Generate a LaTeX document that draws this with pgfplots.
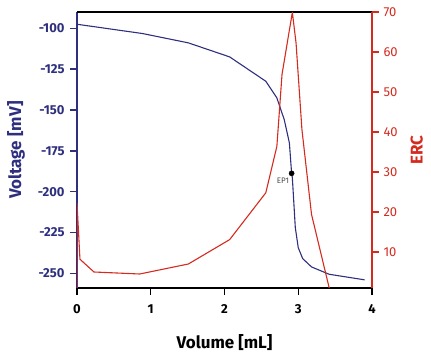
\documentclass[border=0pt]{standalone}
\usepackage{pgfplots}
\pgfplotsset{compat=1.18}
\usepackage{fontspec}
\setmainfont{Fira Sans}
\definecolor{vblue}{HTML}{2E2F7E}
\definecolor{ered}{HTML}{D52B1E}
\begin{document}
\begin{tikzpicture}
\useasboundingbox (-77pt,-68pt) rectangle (354pt,288pt);
\begin{axis}[
  at={(0pt,0pt)}, anchor=south west,
  scale only axis, width=295pt, height=276pt,
  xmin=0, xmax=4, ymin=-259, ymax=-90,
  axis y line*=left, axis x line*=bottom,
  xtick={0,1,2,3,4}, ytick={-250,-225,-200,-175,-150,-125,-100},
  tick align=outside, major tick length=7pt,
  every tick/.style={line width=1.4pt},
  x axis line style={black, line width=1.4pt, -},
  y axis line style={vblue, line width=1.6pt, -},
  xtick style={black, line width=1.4pt},
  ytick style={vblue, line width=1.4pt},
  /pgf/number format/assume math mode=true,
  x tick label style={font=\fontsize{13}{15}\selectfont\bfseries, text=black, yshift=-6pt},
  y tick label style={font=\fontsize{13}{15}\selectfont\bfseries, text=vblue, xshift=-2pt},
  xlabel={Volume [mL]},
  ylabel={Voltage [mV]},
  xlabel style={font=\fontsize{17}{19}\selectfont\bfseries, text=black, yshift=-14pt},
  ylabel style={font=\fontsize{17}{19}\selectfont\bfseries, text=vblue, yshift=6pt},
  clip=true,
]
\addplot[vblue, line width=1.1pt] coordinates {
(0,-97.5) (0.89,-103.2) (1.51,-108.9) (2.07,-117.5) (2.56,-132.4) (2.71,-142.6)
(2.81,-155.9) (2.88,-170.2) (2.91,-188.8) (2.92,-191.4) (2.96,-222) (3.0,-234.3)
(3.06,-241) (3.18,-246.1) (3.42,-250.6) (3.90,-254)
};
\addplot[only marks, mark=*, mark size=2.6pt, black] coordinates {(2.91,-188.8)}
  node[anchor=north east, text=black!70, font=\fontsize{8}{9}\selectfont, xshift=1pt, yshift=-1pt] {EP1};
\end{axis}
\begin{axis}[
  at={(0pt,0pt)}, anchor=south west,
  scale only axis, width=295pt, height=276pt,
  xmin=0, xmax=4, ymin=1, ymax=70,
  axis y line*=right, axis x line*=top,
  xtick=\empty,
  ytick={10,20,30,40,50,60,70},
  tick align=outside, major tick length=7pt,
  x axis line style={black, line width=1.4pt, -},
  y axis line style={ered, line width=1.6pt, -},
  ytick style={ered, line width=1.4pt},
  /pgf/number format/assume math mode=true,
  y tick label style={font=\fontsize{13}{15}\selectfont, text=ered, xshift=1pt},
  ylabel={ERC},
  ylabel style={font=\fontsize{17}{19}\selectfont\bfseries, text=ered, yshift=-6pt},
  clip=true,
]
\addplot[ered, line width=1.1pt] coordinates {
(0,0) (0,22.3) (0.04,8.2) (0.23,5.0) (0.85,4.5) (1.51,7.0) (2.07,13.1) (2.56,24.8)
(2.71,36.4) (2.78,54.4) (2.87,64.4) (2.92,69.9) (2.97,62.3) (3.05,40.6) (3.18,19.4) (3.42,1)
};
\end{axis}
\end{tikzpicture}
\end{document}
